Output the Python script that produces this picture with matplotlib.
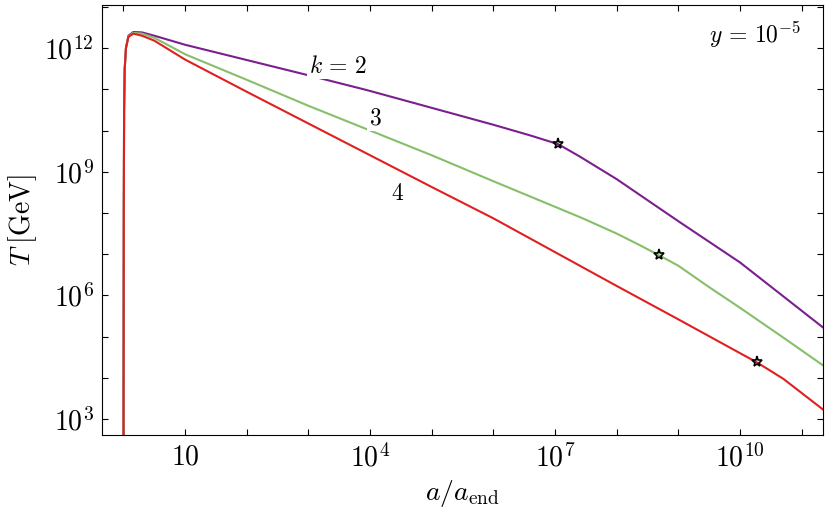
import numpy as np
import matplotlib
matplotlib.use("Agg")
import matplotlib.pyplot as plt

plt.rcParams["mathtext.fontset"] = "cm"
plt.rcParams["font.family"] = "serif"
plt.rcParams["font.serif"] = ["DejaVu Serif"]

# log10(a/a_end), log10(T/GeV)
loga_k2 = [0.0, 0.005, 0.01, 0.02, 0.04, 0.08, 0.16, 0.3, 0.5, 1.0, 2.0, 3.0, 3.95, 5.0, 6.0, 6.6, 7.05, 7.4, 8.0, 9.0, 10.0, 11.34]
logT_k2 = [2.0, 8.0, 10.5, 11.5, 12.0, 12.3, 12.39, 12.38, 12.3, 12.08, 11.71, 11.34, 10.98, 10.55, 10.14, 9.88, 9.67, 9.37, 8.82, 7.8, 6.8, 5.23]
loga_k3 = [0.0, 0.005, 0.01, 0.02, 0.04, 0.08, 0.16, 0.3, 0.5, 1.0, 2.0, 3.0, 4.0, 5.0, 6.0, 7.0, 7.45, 8.0, 8.4, 8.68, 9.0, 9.5, 10.0, 10.7, 11.34]
logT_k3 = [2.0, 8.0, 10.5, 11.5, 12.0, 12.28, 12.37, 12.35, 12.25, 11.85, 11.23, 10.6, 10.0, 9.4, 8.77, 8.15, 7.87, 7.5, 7.2, 6.98, 6.72, 6.2, 5.7, 4.98, 4.31]
loga_k4 = [0.0, 0.005, 0.01, 0.02, 0.04, 0.08, 0.16, 0.3, 0.5, 1.0, 2.0, 3.0, 4.0, 5.0, 6.0, 7.0, 8.0, 9.0, 10.0, 10.27, 10.7, 11.34]
logT_k4 = [2.0, 8.0, 10.5, 11.5, 12.0, 12.27, 12.35, 12.3, 12.18, 11.72, 10.94, 10.17, 9.4, 8.63, 7.87, 7.05, 6.23, 5.42, 4.6, 4.38, 3.98, 3.24]
star_loga = [7.05, 8.68, 10.27]
star_logT = [9.67, 6.98, 4.38]

fig = plt.figure(figsize=(8.31, 5.2), dpi=100)
ax = fig.add_axes([0.123, 0.163, 0.867, 0.827])

ax.plot(10**np.array(loga_k2), 10**np.array(logT_k2), color="#7b1f8f", lw=1.5)
ax.plot(10**np.array(loga_k3), 10**np.array(logT_k3), color="#86bf6a", lw=1.5)
ax.plot(10**np.array(loga_k4), 10**np.array(logT_k4), color="#e02020", lw=1.5)
ax.plot(10**np.array(star_loga), 10**np.array(star_logT), ls="none", marker="*",
        color="black", ms=8, mfc="none", mew=1.2)

ax.set_xscale("log")
ax.set_yscale("log")
ax.set_xlim(10**-0.345, 10**11.34)
ax.set_ylim(10**2.61, 10**13.04)
ax.set_xticks([10.0**k for k in range(0, 12)])
ax.set_xticklabels(["" if k % 3 != 1 else ("$10$" if k == 1 else "$10^{%d}$" % k) for k in range(0, 12)])
ax.set_yticks([10.0**k for k in range(3, 14)])
ax.set_yticklabels(["$10^{%d}$" % k if k % 3 == 0 else "" for k in range(3, 14)])
ax.minorticks_off()
ax.tick_params(direction="in", top=True, right=True, labelsize=20, length=4, pad=6)

ax.set_xlabel(r"$a/a_{\rm end}$", fontsize=20)
ax.set_ylabel(r"$T\;[\rm GeV]$", fontsize=20)

box = dict(facecolor="white", edgecolor="none", pad=1)
ax.text(10**3.48, 10**11.56, r"$k\,=\,2$", fontsize=17, ha="center", va="center", bbox=box)
ax.text(10**4.08, 10**10.3, "$3$", fontsize=17, ha="center", va="center", bbox=box)
ax.text(10**4.44, 10**8.48, "$4$", fontsize=17, ha="center", va="center", bbox=box)
ax.text(0.97, 0.93, r"$y\,=\,10^{-5}$", fontsize=17, ha="right", va="center", transform=ax.transAxes)

fig.savefig("out.png", dpi=100)
